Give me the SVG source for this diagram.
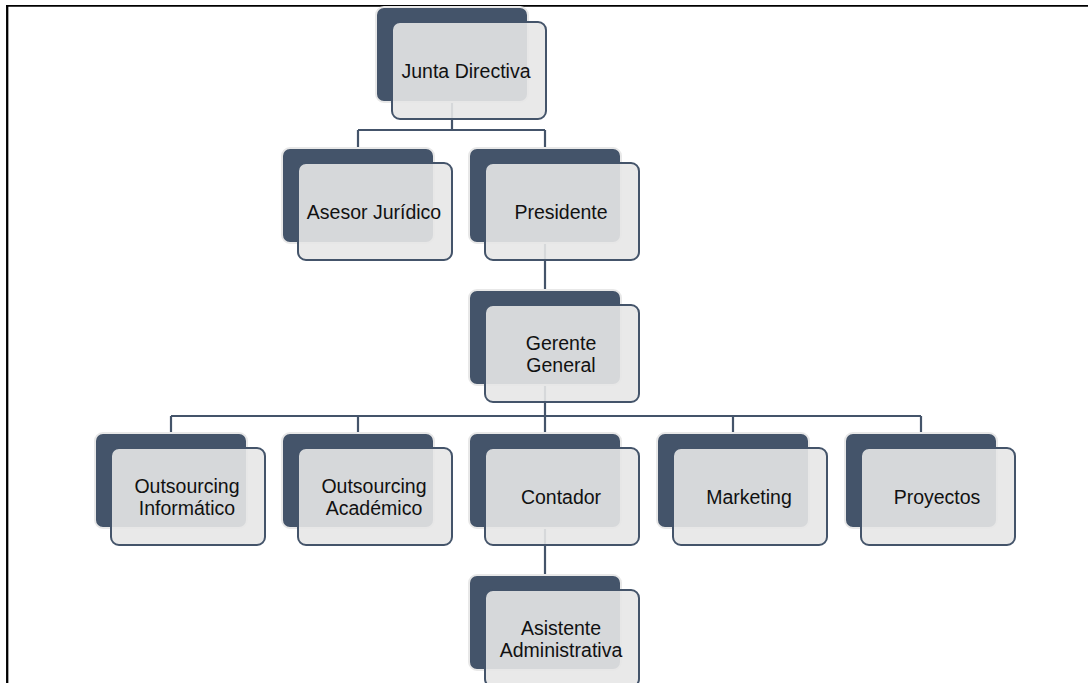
<svg xmlns="http://www.w3.org/2000/svg" width="1088" height="683" viewBox="0 0 1088 683">
<style>
.bk{fill:#44546A;stroke:#e8e8e8;stroke-width:2}
.fr{fill:#e7e7e7;fill-opacity:0.9;stroke:#44546A;stroke-width:2}
.cn{stroke:#44546A;stroke-width:2.2;fill:none}
.tx{font-family:"Liberation Sans",Arial,sans-serif;font-size:19.5px;fill:#111;text-anchor:middle}
</style>
<rect width="1088" height="683" fill="#fff"/>
<line x1="6" y1="5.9" x2="1088" y2="5.9" stroke="#000" stroke-width="1.7"/>
<line x1="7.2" y1="5" x2="7.2" y2="683" stroke="#000" stroke-width="2.3"/>
<defs>
<g id="shape">
<rect class="bk" x="0" y="0" width="152" height="95" rx="8"/>
<rect class="fr" x="16" y="15" width="154" height="97" rx="8"/>
</g>
</defs>
<g id="connectors">
<path class="cn" d="M452 102V130M358 130H545M358 130V148M545 130V148"/>
<path class="cn" d="M545 243V290"/>
<path class="cn" d="M545 385V416M171 416H921M171 416V433M358 416V433M545 416V433M733 416V433M921 416V433"/>
<path class="cn" d="M545 528V575"/>
</g>
<g id="junta"><use href="#shape" x="376" y="7"/><text class="tx" x="466" y="78">Junta Directiva</text></g>
<g id="asesor"><use href="#shape" x="282" y="148"/><text class="tx" x="374" y="219">Asesor Jurídico</text></g>
<g id="presidente"><use href="#shape" x="469" y="148"/><text class="tx" x="561" y="219">Presidente</text></g>
<g id="gerente"><use href="#shape" x="469" y="290"/><text class="tx" x="561" y="350">Gerente</text><text class="tx" x="561" y="372">General</text></g>
<g id="outinf"><use href="#shape" x="95" y="433"/><text class="tx" x="187" y="493">Outsourcing</text><text class="tx" x="187" y="515">Informático</text></g>
<g id="outacad"><use href="#shape" x="282" y="433"/><text class="tx" x="374" y="493">Outsourcing</text><text class="tx" x="374" y="515">Académico</text></g>
<g id="contador"><use href="#shape" x="469" y="433"/><text class="tx" x="561" y="504">Contador</text></g>
<g id="marketing"><use href="#shape" x="657" y="433"/><text class="tx" x="749" y="504">Marketing</text></g>
<g id="proyectos"><use href="#shape" x="845" y="433"/><text class="tx" x="937" y="504">Proyectos</text></g>
<g id="asistente"><use href="#shape" x="469" y="575"/><text class="tx" x="561" y="635">Asistente</text><text class="tx" x="561" y="657">Administrativa</text></g>
</svg>
